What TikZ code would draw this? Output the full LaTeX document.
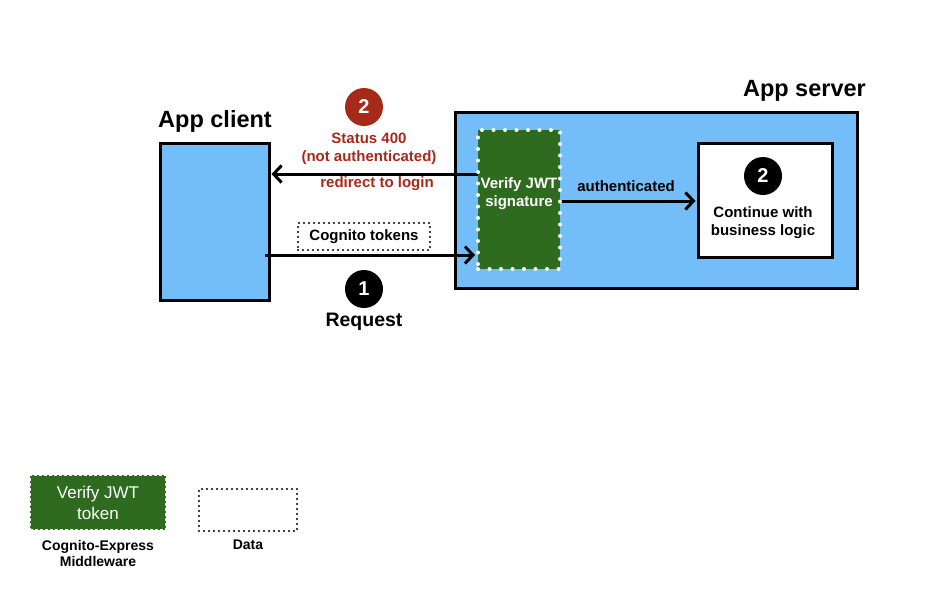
\documentclass[tikz,border=0pt]{standalone}
\usepackage{fontspec}
\setmainfont{Liberation Sans}
\usetikzlibrary{arrows.meta}
\definecolor{lblue}{HTML}{73BEF8}
\definecolor{dgreen}{HTML}{2F6B1F}
\definecolor{dred}{HTML}{A52A1A}
\tikzset{
  box/.style={rectangle, inner sep=0pt, line width=3pt},
  bluebox/.style={box, draw=black, fill=lblue},
  greenbox/.style={rectangle, inner sep=0pt, fill=dgreen, draw=white, line width=4pt, line cap=round, dash pattern=on 0pt off 11.5pt},
  whitebox/.style={box, draw=black, fill=white},
  databox/.style={rectangle, inner sep=0pt, draw=black, line width=2.2pt, line cap=round, dash pattern=on 0pt off 5pt},
  numcirc/.style={circle, inner sep=0pt, minimum size=38pt, text=white, font=\fontsize{20}{20}\selectfont\bfseries},
  title/.style={font=\fontsize{23.5}{26}\selectfont\bfseries, inner sep=0pt},
  lbl/.style={font=\fontsize{15}{18}\selectfont\bfseries, inner sep=0pt, align=center},
  redlbl/.style={lbl, text=dred},
  small/.style={font=\fontsize{14}{16}\selectfont\bfseries, inner sep=0pt, align=center},
  arr/.style={line width=3pt, -{Straight Barb[length=8pt,width=17pt,line width=3pt]}},
}
\begin{document}
\begin{tikzpicture}[x=1pt,y=-1pt]
\useasboundingbox (0,0) rectangle (925,592);

% App client
\node[title] (clientlbl) at (215,121) {App client};
\node[bluebox, minimum width=109pt, minimum height=157pt] (client) at (214.5,221.5) {};

% App server
\node[title, anchor=east] (serverlbl) at (866,91) {App server};
\node[bluebox, minimum width=402pt, minimum height=176pt] (server) at (656,200) {};

% Business logic box
\node[whitebox, minimum width=134pt, minimum height=114pt] (logic) at (765,200) {};
\node[numcirc, fill=black] (c2b) at (763,176) {2};
\node[lbl] (logictxt) at (763,223) {Continue with\\business logic};

% Arrows
\coordinate (backS) at (478,174);
\draw[arr, shorten >=1pt] (backS) -- (client.east |- backS);
\coordinate (reqS) at (265,255);
\coordinate (reqE) at (475,255);
\draw[arr] (reqS) -- (reqE);
\coordinate (authS) at (560,201);
\draw[arr, shorten >=1pt] (authS) -- (logic.west |- authS);

% Verify JWT box
\node[greenbox, minimum width=82pt, minimum height=139pt] (verify) at (519,199.5) {};
\node[lbl, text=white] (verifytxt) at (519,193.5) {Verify JWT\\signature};

\node[lbl] (authlbl) at (626,186) {authenticated};

% Red response
\node[numcirc, fill=dred] (c2r) at (364,107) {2};
\node[redlbl] (status) at (369,149) {Status 400\\(not authenticated)};
\node[redlbl] (redir) at (377,184) {redirect to login};

% Cognito tokens
\node[databox, minimum width=132pt, minimum height=27pt, font=\fontsize{15}{16}\selectfont\bfseries] (tokens) at (364,236.5) {Cognito tokens};

% Request
\node[numcirc, fill=black] (c1) at (364,289) {1};
\node[font=\fontsize{19.5}{22}\selectfont\bfseries, inner sep=0pt] (reqlbl) at (364,322) {Request};

% Legend
\node[rectangle, inner sep=0pt, fill=dgreen, draw=white, line width=1.8pt, dash pattern=on 3pt off 2pt, minimum width=136pt, minimum height=55pt, text=white, align=center, font=\fontsize{17}{21}\selectfont] (legG) at (98,502.5) {Verify JWT\\token};
\node[small] (legGlbl) at (98,553) {Cognito-Express\\Middleware};
\node[databox, minimum width=98pt, minimum height=42pt] (legD) at (248,510) {};
\node[small] (legDlbl) at (248,545) {Data};
\end{tikzpicture}
\end{document}
